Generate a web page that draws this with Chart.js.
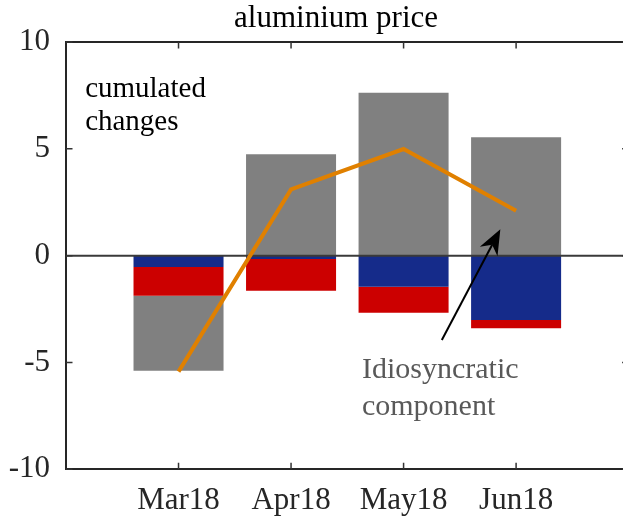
<!DOCTYPE html>
<html>
<head>
<meta charset="utf-8">
<script src="https://cdn.jsdelivr.net/npm/chart.js@4.4.1/dist/chart.umd.min.js"></script>
<style>
  html, body { margin: 0; padding: 0; background: #ffffff; overflow: hidden; }
  #wrap { position: relative; width: 623px; height: 521px; }
</style>
</head>
<body>
<div id="wrap"><canvas id="c"></canvas></div>
<script>
// ---- data ----
const titleText = 'aluminium price';
const categories = ['Mar18', 'Apr18', 'May18', 'Jun18'];
const blueSeries = [-0.53, -0.16, -1.46, -3.01];
const redSeries  = [-1.35, -1.48, -1.21, -0.39];
const greySeries = [-3.51, 4.75, 7.62, 5.54];
const lineSeries = [-5.43, 3.10, 4.99, 2.10];
const yTicks = [-10, -5, 0, 5, 10];
const noteCumulated = ['cumulated', 'changes'];
const noteIdio = ['Idiosyncratic', 'component'];

const FONT = '"Liberation Serif", "Times New Roman", serif';
const pts = arr => arr.map((v, i) => ({ x: i, y: v }));

const decor = {
  id: 'decor',
  beforeDatasetDraw(chart, args) {
    if (args.meta.type !== 'line') return;
    const { ctx, chartArea: a, scales: { y } } = chart;
    const y0 = y.getPixelForValue(0);
    ctx.save();
    ctx.strokeStyle = '#3a3a3a';
    ctx.lineWidth = 2;
    ctx.beginPath();
    ctx.moveTo(a.left, y0);
    ctx.lineTo(a.right, y0);
    ctx.stroke();
    ctx.restore();
  },
  afterDraw(chart) {
    const { ctx, chartArea: a, scales: { x, y } } = chart;
    ctx.save();
    // top border
    ctx.strokeStyle = '#262626';
    ctx.lineWidth = 2;
    ctx.beginPath();
    ctx.moveTo(a.left - 1, a.top);
    ctx.lineTo(a.right, a.top);
    ctx.stroke();
    // inward ticks
    ctx.lineWidth = 1.5;
    ctx.strokeStyle = '#333333';
    const tl = 6.5;
    const xRight = x.getPixelForValue(categories.length);
    ctx.beginPath();
    yTicks.forEach(v => {
      const py = y.getPixelForValue(v);
      ctx.moveTo(a.left, py); ctx.lineTo(a.left + tl, py);
      ctx.moveTo(xRight, py); ctx.lineTo(xRight - tl, py);
    });
    categories.forEach((c, i) => {
      const px = x.getPixelForValue(i);
      ctx.moveTo(px, a.bottom); ctx.lineTo(px, a.bottom - tl);
      ctx.moveTo(px, a.top); ctx.lineTo(px, a.top + tl);
    });
    ctx.stroke();

    // title
    ctx.fillStyle = '#000000';
    ctx.font = '31px ' + FONT;
    ctx.textAlign = 'center';
    ctx.textBaseline = 'alphabetic';
    ctx.fillText(titleText, x.getPixelForValue(1.4), 27);

    // annotations
    ctx.textAlign = 'left';
    ctx.font = '29px ' + FONT;
    ctx.fillStyle = '#000000';
    ctx.fillText(noteCumulated[0], x.getPixelForValue(-0.83), y.getPixelForValue(7.44));
    ctx.fillText(noteCumulated[1], x.getPixelForValue(-0.83), y.getPixelForValue(5.88));
    ctx.font = '30px ' + FONT;
    ctx.fillStyle = '#595959';
    ctx.fillText(noteIdio[0], x.getPixelForValue(1.63), y.getPixelForValue(-5.75));
    ctx.fillText(noteIdio[1], x.getPixelForValue(1.63), y.getPixelForValue(-7.45));

    // arrow
    const tx = x.getPixelForValue(2.34), ty = y.getPixelForValue(-3.95);
    const hx = x.getPixelForValue(2.86), hy = y.getPixelForValue(1.23);
    const dx = hx - tx, dy = hy - ty, len = Math.hypot(dx, dy);
    const ux = dx / len, uy = dy / len, nx = -uy, ny = ux;
    const hl = 25, hw = 10;
    const bx = hx - ux * hl, by = hy - uy * hl;
    const notchx = hx - ux * hl * 0.7, notchy = hy - uy * hl * 0.7;
    ctx.strokeStyle = '#000000';
    ctx.lineWidth = 2;
    ctx.beginPath();
    ctx.moveTo(tx, ty);
    ctx.lineTo(notchx, notchy);
    ctx.stroke();
    ctx.fillStyle = '#000000';
    ctx.beginPath();
    ctx.moveTo(hx, hy);
    ctx.lineTo(bx + nx * hw, by + ny * hw);
    ctx.lineTo(notchx, notchy);
    ctx.lineTo(bx - nx * hw, by - ny * hw);
    ctx.closePath();
    ctx.fill();
    ctx.restore();
  }
};

new Chart(document.getElementById('c'), {
  type: 'bar',
  data: {
    datasets: [
      { type: 'line', data: pts(lineSeries), borderColor: '#e08000', borderWidth: 4,
        pointRadius: 0, fill: false, tension: 0, order: 0, yAxisID: 'y', xAxisID: 'x' },
      { data: pts(blueSeries), backgroundColor: '#152b8a', order: 1 },
      { data: pts(redSeries),  backgroundColor: '#cc0000', order: 1 },
      { data: pts(greySeries), backgroundColor: '#808080', order: 1 }
    ]
  },
  options: {
    responsive: true,
    maintainAspectRatio: false,
    animation: false,
    events: [],
    layout: { padding: { top: 42, left: 0, right: 0, bottom: 0 } },
    datasets: { bar: { barPercentage: 0.8, categoryPercentage: 1.0, borderWidth: 0 } },
    plugins: { legend: { display: false }, tooltip: { enabled: false }, title: { display: false } },
    scales: {
      x: {
        type: 'linear',
        stacked: true,
        offset: false,
        min: -1,
        max: 3.95,
        afterBuildTicks: s => { s.ticks = categories.map((c, i) => ({ value: i })); },
        afterFit: s => { s.height = 51.7; },
        grid: { display: false, drawTicks: false, offset: false },
        border: { display: true, color: '#262626', width: 2 },
        ticks: {
          callback: v => categories[v] ?? '',
          color: '#262626',
          font: { family: FONT, size: 31 },
          padding: 13,
          maxRotation: 0,
          autoSkip: false
        }
      },
      y: {
        stacked: true,
        min: -10,
        max: 10,
        afterBuildTicks: s => { s.ticks = yTicks.map(v => ({ value: v })); },
        afterFit: s => { s.width = 66; },
        grid: { display: false, drawTicks: false },
        border: { display: true, color: '#262626', width: 2 },
        ticks: {
          color: '#262626',
          font: { family: FONT, size: 31 },
          padding: 16
        }
      }
    }
  },
  plugins: [decor]
});
</script>
</body>
</html>
